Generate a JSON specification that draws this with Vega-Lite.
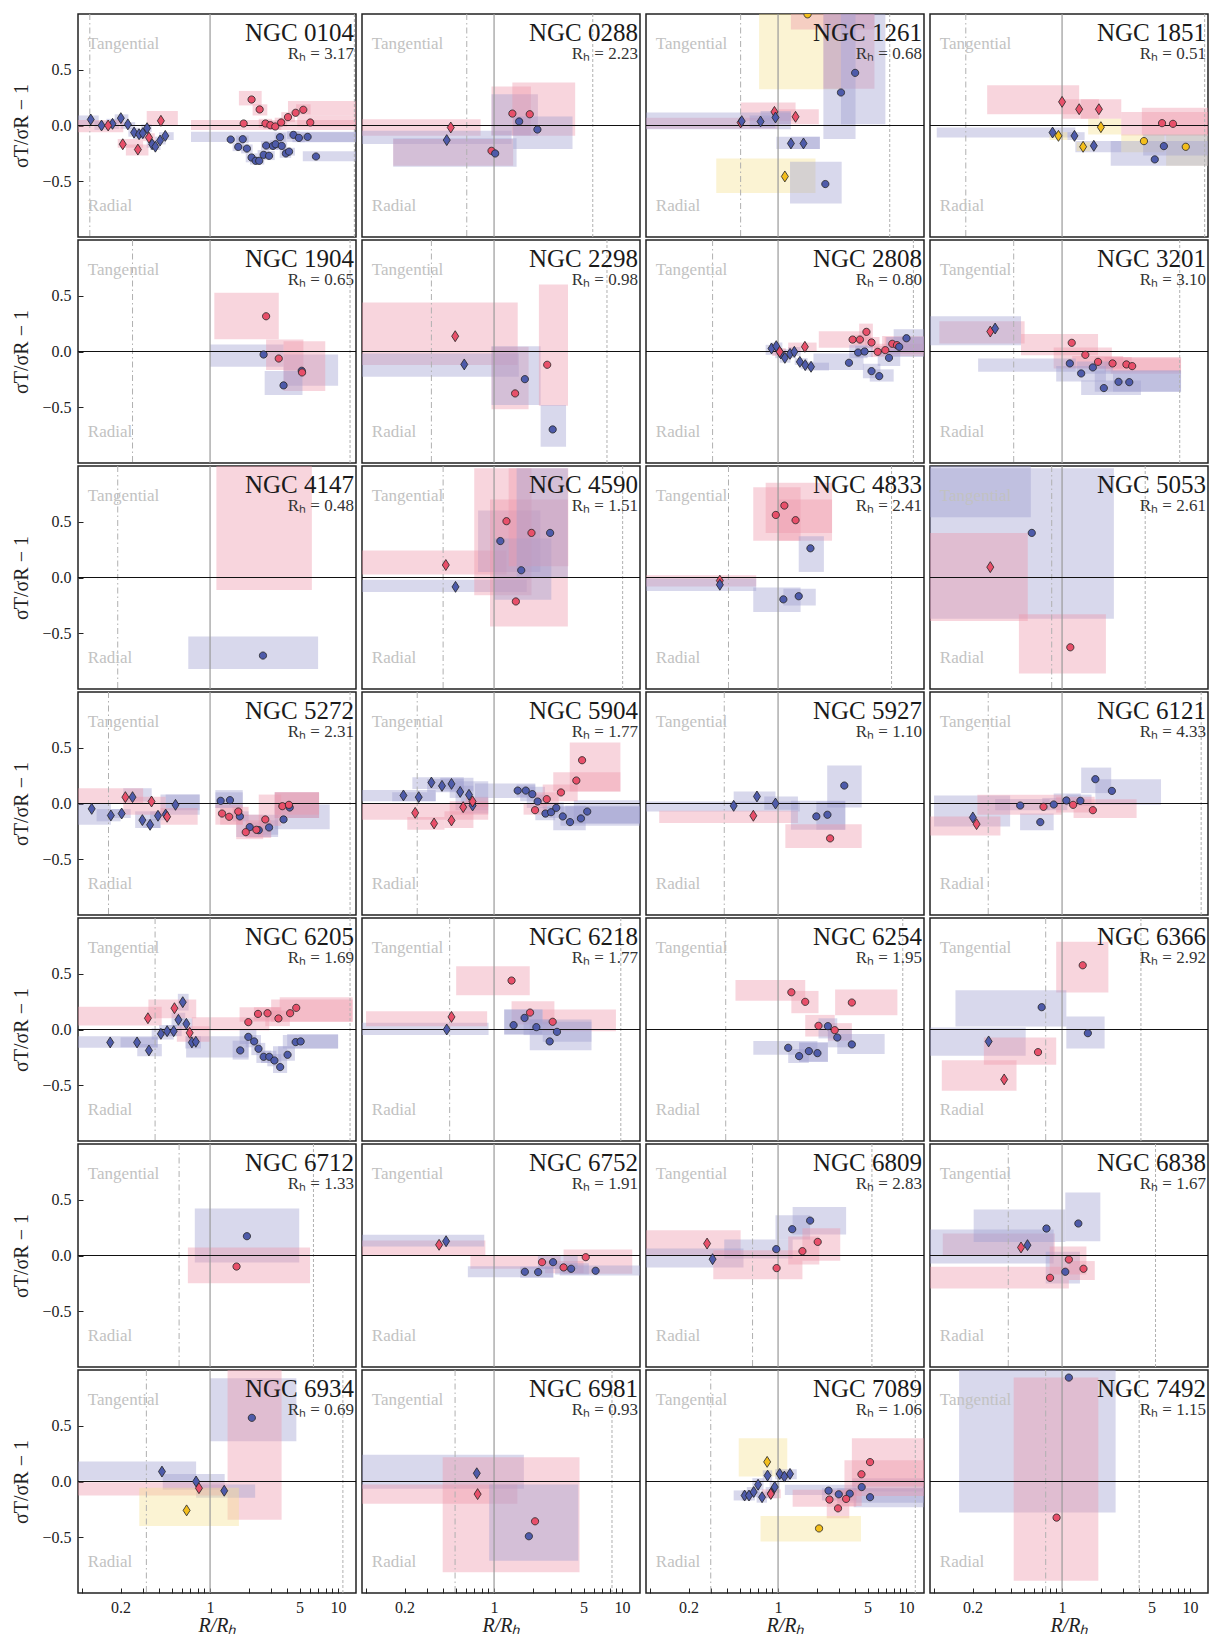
{
"$schema": "https://vega.github.io/schema/vega-lite/v6.json",
"padding": {"left": 11, "top": 12, "right": 2, "bottom": 0},
"bounds": "flush",
"data": {"values": [
{"g":"NGC 0104","rh":"3.17","dd":0.115,"dt":13.4},
{"g":"NGC 0288","rh":"2.23","dd":0.612,"dt":5.9},
{"g":"NGC 1261","rh":"0.68","dd":0.51,"dt":7.45},
{"g":"NGC 1851","rh":"0.51","dd":0.177,"dt":13.0},
{"g":"NGC 1904","rh":"0.65","dd":0.248,"dt":12.4},
{"g":"NGC 2298","rh":"0.98","dd":0.324,"dt":7.62},
{"g":"NGC 2808","rh":"0.80","dd":0.308,"dt":11.4},
{"g":"NGC 3201","rh":"3.10","dd":0.419,"dt":8.3},
{"g":"NGC 4147","rh":"0.48","dd":0.19},
{"g":"NGC 4590","rh":"1.51","dd":0.40,"dt":10.1},
{"g":"NGC 4833","rh":"2.41","dd":0.41,"dt":7.7},
{"g":"NGC 5053","rh":"2.61","dd":0.83,"dt":4.46},
{"g":"NGC 5272","rh":"2.31","dd":0.161,"dt":12.4},
{"g":"NGC 5904","rh":"1.77","dd":0.251},
{"g":"NGC 5927","rh":"1.10","dd":0.38},
{"g":"NGC 6121","rh":"4.33","dd":0.265,"dt":12.2},
{"g":"NGC 6205","rh":"1.69","dd":0.372,"dt":12.4},
{"g":"NGC 6218","rh":"1.77","dd":0.45,"dt":9.77},
{"g":"NGC 6254","rh":"1.95","dd":0.39,"dt":9.42},
{"g":"NGC 6366","rh":"2.92","dd":0.745,"dt":4.13},
{"g":"NGC 6712","rh":"1.33","dd":0.573,"dt":6.42},
{"g":"NGC 6752","rh":"1.91"},
{"g":"NGC 6809","rh":"2.83","dd":0.632,"dt":5.41},
{"g":"NGC 6838","rh":"1.67","dd":0.38,"dt":5.37},
{"g":"NGC 6934","rh":"0.69","dd":0.318,"dt":10.9},
{"g":"NGC 6981","rh":"0.93","dd":0.496,"dt":8.34},
{"g":"NGC 7089","rh":"1.06","dd":0.298,"dt":11.8},
{"g":"NGC 7492","rh":"1.15","dd":0.745,"dt":4.0},

{"g":"NGC 0104","c":"b","s":"d","x":0.117,"y":0.054,"x0":0.093,"x1":0.135,"y0":0.0,"y1":0.09},
{"g":"NGC 0104","c":"b","s":"d","x":0.142,"y":0.0,"x0":0.125,"x1":0.16,"y0":-0.04,"y1":0.04},
{"g":"NGC 0104","c":"b","s":"d","x":0.173,"y":0.015,"x0":0.155,"x1":0.195,"y0":-0.03,"y1":0.06},
{"g":"NGC 0104","c":"b","s":"d","x":0.201,"y":0.066,"x0":0.18,"x1":0.23,"y0":0.02,"y1":0.1},
{"g":"NGC 0104","c":"b","s":"d","x":0.228,"y":0.01,"x0":0.2,"x1":0.26,"y0":-0.03,"y1":0.03},
{"g":"NGC 0104","c":"b","s":"d","x":0.255,"y":-0.063,"x0":0.23,"x1":0.28,"y0":-0.1,"y1":-0.02},
{"g":"NGC 0104","c":"b","s":"d","x":0.279,"y":-0.078,"x0":0.25,"x1":0.31,"y0":-0.12,"y1":-0.04},
{"g":"NGC 0104","c":"b","s":"d","x":0.298,"y":-0.069,"x0":0.27,"x1":0.33,"y0":-0.11,"y1":-0.03},
{"g":"NGC 0104","c":"b","s":"d","x":0.322,"y":-0.024,"x0":0.29,"x1":0.35,"y0":-0.06,"y1":0.01},
{"g":"NGC 0104","c":"b","s":"d","x":0.353,"y":-0.168,"x0":0.32,"x1":0.39,"y0":-0.2,"y1":-0.13},
{"g":"NGC 0104","c":"b","s":"d","x":0.374,"y":-0.19,"x0":0.34,"x1":0.41,"y0":-0.22,"y1":-0.15},
{"g":"NGC 0104","c":"b","s":"d","x":0.407,"y":-0.135,"x0":0.37,"x1":0.45,"y0":-0.17,"y1":-0.1},
{"g":"NGC 0104","c":"b","s":"d","x":0.447,"y":-0.093,"x0":0.4,"x1":0.52,"y0":-0.13,"y1":-0.06},
{"g":"NGC 0104","c":"r","s":"d","x":0.16,"y":0.0,"x0":0.093,"x1":0.21,"y0":-0.06,"y1":0.05},
{"g":"NGC 0104","c":"r","s":"d","x":0.208,"y":-0.168,"x0":0.19,"x1":0.3,"y0":-0.2,"y1":-0.12},
{"g":"NGC 0104","c":"r","s":"d","x":0.273,"y":-0.216,"x0":0.22,"x1":0.33,"y0":-0.27,"y1":-0.17},
{"g":"NGC 0104","c":"r","s":"d","x":0.333,"y":-0.108,"x0":0.3,"x1":0.37,"y0":-0.14,"y1":-0.07},
{"g":"NGC 0104","c":"r","s":"d","x":0.413,"y":0.042,"x0":0.32,"x1":0.56,"y0":0.0,"y1":0.13},
{"g":"NGC 0104","c":"r","s":"c","x":1.83,"y":0.018,"x0":0.71,"x1":13.8,"y0":-0.04,"y1":0.05},
{"g":"NGC 0104","c":"r","s":"c","x":2.11,"y":0.233,"x0":1.68,"x1":2.53,"y0":0.18,"y1":0.31},
{"g":"NGC 0104","c":"r","s":"c","x":2.44,"y":0.144,"x0":2.15,"x1":2.8,"y0":0.09,"y1":0.19},
{"g":"NGC 0104","c":"r","s":"c","x":2.71,"y":0.018,"x0":2.4,"x1":3.05,"y0":-0.02,"y1":0.06},
{"g":"NGC 0104","c":"r","s":"c","x":2.96,"y":0.003,"x0":2.6,"x1":3.3,"y0":-0.03,"y1":0.04},
{"g":"NGC 0104","c":"r","s":"c","x":3.23,"y":-0.009,"x0":2.9,"x1":3.6,"y0":-0.04,"y1":0.03},
{"g":"NGC 0104","c":"r","s":"c","x":3.59,"y":0.027,"x0":3.2,"x1":4.0,"y0":-0.01,"y1":0.07},
{"g":"NGC 0104","c":"r","s":"c","x":4.06,"y":0.075,"x0":3.6,"x1":4.6,"y0":0.03,"y1":0.12},
{"g":"NGC 0104","c":"r","s":"c","x":4.66,"y":0.114,"x0":4.06,"x1":13.8,"y0":0.09,"y1":0.22},
{"g":"NGC 0104","c":"r","s":"c","x":5.35,"y":0.141,"x0":4.7,"x1":6.1,"y0":0.1,"y1":0.19},
{"g":"NGC 0104","c":"r","s":"c","x":6.06,"y":0.027,"x0":4.8,"x1":13.8,"y0":-0.01,"y1":0.09},
{"g":"NGC 0104","c":"b","s":"c","x":1.45,"y":-0.126,"x0":0.71,"x1":13.8,"y0":-0.147,"y1":-0.057},
{"g":"NGC 0104","c":"b","s":"c","x":1.66,"y":-0.192,"x0":1.5,"x1":1.85,"y0":-0.23,"y1":-0.15},
{"g":"NGC 0104","c":"b","s":"c","x":1.80,"y":-0.123,"x0":1.6,"x1":2.0,"y0":-0.16,"y1":-0.09},
{"g":"NGC 0104","c":"b","s":"c","x":1.94,"y":-0.207,"x0":1.75,"x1":2.15,"y0":-0.25,"y1":-0.17},
{"g":"NGC 0104","c":"b","s":"c","x":2.11,"y":-0.287,"x0":1.9,"x1":2.35,"y0":-0.33,"y1":-0.25},
{"g":"NGC 0104","c":"b","s":"c","x":2.27,"y":-0.317,"x0":2.05,"x1":2.5,"y0":-0.35,"y1":-0.28},
{"g":"NGC 0104","c":"b","s":"c","x":2.42,"y":-0.317,"x0":2.2,"x1":2.65,"y0":-0.35,"y1":-0.28},
{"g":"NGC 0104","c":"b","s":"c","x":2.62,"y":-0.263,"x0":2.35,"x1":2.9,"y0":-0.3,"y1":-0.22},
{"g":"NGC 0104","c":"b","s":"c","x":2.74,"y":-0.18,"x0":2.5,"x1":3.0,"y0":-0.22,"y1":-0.14},
{"g":"NGC 0104","c":"b","s":"c","x":2.89,"y":-0.272,"x0":2.6,"x1":3.2,"y0":-0.31,"y1":-0.23},
{"g":"NGC 0104","c":"b","s":"c","x":3.10,"y":-0.183,"x0":2.8,"x1":3.4,"y0":-0.22,"y1":-0.15},
{"g":"NGC 0104","c":"b","s":"c","x":3.25,"y":-0.168,"x0":2.95,"x1":3.6,"y0":-0.21,"y1":-0.13},
{"g":"NGC 0104","c":"b","s":"c","x":3.52,"y":-0.105,"x0":3.2,"x1":3.9,"y0":-0.15,"y1":-0.07},
{"g":"NGC 0104","c":"b","s":"c","x":3.63,"y":-0.183,"x0":3.3,"x1":4.0,"y0":-0.22,"y1":-0.15},
{"g":"NGC 0104","c":"b","s":"c","x":3.91,"y":-0.251,"x0":3.5,"x1":4.3,"y0":-0.29,"y1":-0.21},
{"g":"NGC 0104","c":"b","s":"c","x":4.14,"y":-0.234,"x0":3.7,"x1":4.6,"y0":-0.27,"y1":-0.2},
{"g":"NGC 0104","c":"b","s":"c","x":4.48,"y":-0.084,"x0":4.0,"x1":5.0,"y0":-0.12,"y1":-0.05},
{"g":"NGC 0104","c":"b","s":"c","x":4.94,"y":-0.111,"x0":4.4,"x1":5.5,"y0":-0.15,"y1":-0.08},
{"g":"NGC 0104","c":"b","s":"c","x":5.78,"y":-0.102,"x0":5.0,"x1":13.8,"y0":-0.15,"y1":-0.06},
{"g":"NGC 0104","c":"b","s":"c","x":6.72,"y":-0.278,"x0":5.3,"x1":13.8,"y0":-0.32,"y1":-0.23},

{"g":"NGC 0288","c":"r","s":"d","x":0.459,"y":-0.018,"x0":0.093,"x1":0.785,"y0":-0.093,"y1":0.057},
{"g":"NGC 0288","c":"b","s":"d","x":0.427,"y":-0.131,"x0":0.093,"x1":1.37,"y0":-0.167,"y1":-0.048},
{"g":"NGC 0288","c":"r","s":"c","x":0.955,"y":-0.227,"x0":0.163,"x1":1.41,"y0":-0.361,"y1":-0.122},
{"g":"NGC 0288","c":"b","s":"c","x":1.02,"y":-0.251,"x0":0.163,"x1":1.5,"y0":-0.37,"y1":-0.115},
{"g":"NGC 0288","c":"r","s":"c","x":1.39,"y":0.107,"x0":0.955,"x1":1.94,"y0":-0.087,"y1":0.349},
{"g":"NGC 0288","c":"b","s":"c","x":1.57,"y":0.036,"x0":0.955,"x1":2.2,"y0":-0.093,"y1":0.28},
{"g":"NGC 0288","c":"r","s":"c","x":1.90,"y":0.101,"x0":1.39,"x1":4.3,"y0":-0.093,"y1":0.385},
{"g":"NGC 0288","c":"b","s":"c","x":2.18,"y":-0.036,"x0":1.41,"x1":4.1,"y0":-0.21,"y1":0.08},

{"g":"NGC 1261","c":"y","s":"c","x":1.70,"y":0.997,"x0":0.711,"x1":3.1,"y0":0.325,"y1":1.6},
{"g":"NGC 1261","c":"r","s":"c","x":3.0,"y":1.15,"x0":1.26,"x1":5.66,"y0":0.86,"y1":1.5},
{"g":"NGC 1261","c":"r","s":"c","x":3.5,"y":1.2,"x0":2.26,"x1":5.66,"y0":0.33,"y1":2.0},
{"g":"NGC 1261","c":"b","s":"c","x":3.10,"y":0.296,"x0":2.26,"x1":4.03,"y0":-0.122,"y1":1.5},
{"g":"NGC 1261","c":"b","s":"c","x":4.0,"y":0.472,"x0":3.1,"x1":6.89,"y0":0.012,"y1":1.5},
{"g":"NGC 1261","c":"r","s":"d","x":0.51,"y":0.027,"x0":0.093,"x1":1.0,"y0":-0.03,"y1":0.07},
{"g":"NGC 1261","c":"r","s":"d","x":0.937,"y":0.122,"x0":0.51,"x1":1.37,"y0":0.042,"y1":0.206},
{"g":"NGC 1261","c":"r","s":"d","x":1.37,"y":0.078,"x0":1.0,"x1":2.08,"y0":0.012,"y1":0.146},
{"g":"NGC 1261","c":"b","s":"d","x":0.52,"y":0.039,"x0":0.093,"x1":1.26,"y0":-0.033,"y1":0.116},
{"g":"NGC 1261","c":"b","s":"d","x":0.73,"y":0.036,"x0":0.6,"x1":0.95,"y0":-0.02,"y1":0.09},
{"g":"NGC 1261","c":"b","s":"d","x":0.955,"y":0.072,"x0":0.73,"x1":1.26,"y0":0.012,"y1":0.13},
{"g":"NGC 1261","c":"b","s":"d","x":1.26,"y":-0.161,"x0":0.97,"x1":2.12,"y0":-0.21,"y1":-0.1},
{"g":"NGC 1261","c":"b","s":"d","x":1.58,"y":-0.161,"x0":1.26,"x1":2.12,"y0":-0.21,"y1":-0.1},
{"g":"NGC 1261","c":"y","s":"d","x":1.13,"y":-0.457,"x0":0.329,"x1":1.96,"y0":-0.606,"y1":-0.296},
{"g":"NGC 1261","c":"b","s":"c","x":2.34,"y":-0.525,"x0":1.24,"x1":3.14,"y0":-0.7,"y1":-0.325},

{"g":"NGC 1851","c":"r","s":"d","x":1.0,"y":0.212,"x0":0.26,"x1":1.36,"y0":0.10,"y1":0.36},
{"g":"NGC 1851","c":"r","s":"d","x":1.36,"y":0.146,"x0":1.0,"x1":1.94,"y0":0.06,"y1":0.236},
{"g":"NGC 1851","c":"r","s":"d","x":1.94,"y":0.146,"x0":1.4,"x1":2.9,"y0":0.06,"y1":0.236},
{"g":"NGC 1851","c":"b","s":"d","x":0.843,"y":-0.063,"x0":0.105,"x1":1.27,"y0":-0.107,"y1":-0.018},
{"g":"NGC 1851","c":"b","s":"d","x":1.25,"y":-0.093,"x0":1.1,"x1":1.5,"y0":-0.13,"y1":-0.06},
{"g":"NGC 1851","c":"b","s":"d","x":1.77,"y":-0.182,"x0":1.27,"x1":2.9,"y0":-0.24,"y1":-0.14},
{"g":"NGC 1851","c":"y","s":"d","x":0.937,"y":-0.093,"x0":0.8,"x1":1.1,"y0":-0.13,"y1":-0.06},
{"g":"NGC 1851","c":"y","s":"d","x":1.46,"y":-0.191,"x0":1.3,"x1":1.65,"y0":-0.23,"y1":-0.15},
{"g":"NGC 1851","c":"y","s":"d","x":2.01,"y":-0.015,"x0":1.6,"x1":2.9,"y0":-0.08,"y1":0.06},
{"g":"NGC 1851","c":"r","s":"c","x":6.04,"y":0.021,"x0":4.2,"x1":13.8,"y0":-0.09,"y1":0.16},
{"g":"NGC 1851","c":"r","s":"c","x":7.35,"y":0.015,"x0":2.9,"x1":13.8,"y0":-0.09,"y1":0.12},
{"g":"NGC 1851","c":"y","s":"c","x":4.36,"y":-0.14,"x0":2.9,"x1":6.3,"y0":-0.24,"y1":-0.08},
{"g":"NGC 1851","c":"y","s":"c","x":9.25,"y":-0.191,"x0":6.5,"x1":13.8,"y0":-0.36,"y1":-0.08},
{"g":"NGC 1851","c":"b","s":"c","x":5.3,"y":-0.304,"x0":2.4,"x1":13.8,"y0":-0.36,"y1":-0.14},
{"g":"NGC 1851","c":"b","s":"c","x":6.24,"y":-0.185,"x0":4.3,"x1":13.8,"y0":-0.27,"y1":-0.08},

{"g":"NGC 1904","c":"r","s":"c","x":2.74,"y":0.316,"x0":1.08,"x1":3.44,"y0":0.11,"y1":0.528},
{"g":"NGC 1904","c":"b","s":"c","x":2.62,"y":-0.027,"x0":1.0,"x1":3.75,"y0":-0.137,"y1":0.063},
{"g":"NGC 1904","c":"r","s":"c","x":3.44,"y":-0.063,"x0":2.74,"x1":5.36,"y0":-0.167,"y1":0.107},
{"g":"NGC 1904","c":"b","s":"c","x":5.2,"y":-0.173,"x0":3.75,"x1":10.0,"y0":-0.307,"y1":-0.027},
{"g":"NGC 1904","c":"r","s":"c","x":5.23,"y":-0.188,"x0":3.75,"x1":7.94,"y0":-0.355,"y1":0.093},
{"g":"NGC 1904","c":"b","s":"c","x":3.75,"y":-0.304,"x0":2.67,"x1":5.27,"y0":-0.391,"y1":-0.176},

{"g":"NGC 2298","c":"r","s":"d","x":0.497,"y":0.137,"x0":0.093,"x1":1.53,"y0":-0.122,"y1":0.439},
{"g":"NGC 2298","c":"b","s":"d","x":0.585,"y":-0.116,"x0":0.093,"x1":1.56,"y0":-0.227,"y1":-0.018},
{"g":"NGC 2298","c":"r","s":"c","x":1.46,"y":-0.376,"x0":0.955,"x1":1.86,"y0":-0.519,"y1":0.042},
{"g":"NGC 2298","c":"b","s":"c","x":1.74,"y":-0.248,"x0":0.955,"x1":2.31,"y0":-0.48,"y1":0.048},
{"g":"NGC 2298","c":"r","s":"c","x":2.6,"y":-0.119,"x0":2.24,"x1":3.78,"y0":-0.487,"y1":0.6},
{"g":"NGC 2298","c":"b","s":"c","x":2.87,"y":-0.699,"x0":2.31,"x1":3.65,"y0":-0.854,"y1":-0.48},

{"g":"NGC 2808","c":"b","s":"d","x":0.889,"y":0.027,"x0":0.8,"x1":0.98,"y0":-0.03,"y1":0.06},
{"g":"NGC 2808","c":"b","s":"d","x":0.968,"y":0.048,"x0":0.87,"x1":1.08,"y0":0.0,"y1":0.08},
{"g":"NGC 2808","c":"b","s":"d","x":1.05,"y":-0.018,"x0":0.95,"x1":1.15,"y0":-0.06,"y1":0.02},
{"g":"NGC 2808","c":"b","s":"d","x":1.13,"y":-0.057,"x0":1.03,"x1":1.25,"y0":-0.1,"y1":-0.02},
{"g":"NGC 2808","c":"b","s":"d","x":1.24,"y":-0.021,"x0":1.12,"x1":1.38,"y0":-0.06,"y1":0.02},
{"g":"NGC 2808","c":"b","s":"d","x":1.34,"y":-0.003,"x0":1.2,"x1":1.5,"y0":-0.04,"y1":0.04},
{"g":"NGC 2808","c":"b","s":"d","x":1.48,"y":-0.093,"x0":1.35,"x1":1.7,"y0":-0.12,"y1":-0.06},
{"g":"NGC 2808","c":"b","s":"d","x":1.63,"y":-0.122,"x0":1.5,"x1":1.9,"y0":-0.16,"y1":-0.09},
{"g":"NGC 2808","c":"b","s":"d","x":1.81,"y":-0.137,"x0":1.6,"x1":2.5,"y0":-0.17,"y1":-0.1},
{"g":"NGC 2808","c":"r","s":"d","x":1.03,"y":-0.003,"x0":0.9,"x1":1.15,"y0":-0.04,"y1":0.03},
{"g":"NGC 2808","c":"r","s":"d","x":1.62,"y":0.042,"x0":1.2,"x1":2.0,"y0":0.0,"y1":0.08},
{"g":"NGC 2808","c":"r","s":"c","x":3.82,"y":0.107,"x0":2.08,"x1":5.3,"y0":0.033,"y1":0.182},
{"g":"NGC 2808","c":"r","s":"c","x":4.36,"y":0.107,"x0":3.9,"x1":4.9,"y0":0.06,"y1":0.15},
{"g":"NGC 2808","c":"r","s":"c","x":4.9,"y":0.176,"x0":4.3,"x1":5.5,"y0":0.1,"y1":0.25},
{"g":"NGC 2808","c":"r","s":"c","x":5.37,"y":0.081,"x0":4.8,"x1":6.2,"y0":0.03,"y1":0.13},
{"g":"NGC 2808","c":"r","s":"c","x":6.0,"y":-0.003,"x0":5.3,"x1":6.8,"y0":-0.05,"y1":0.05},
{"g":"NGC 2808","c":"r","s":"c","x":6.88,"y":0.012,"x0":5.6,"x1":13.8,"y0":-0.04,"y1":0.07},
{"g":"NGC 2808","c":"r","s":"c","x":7.8,"y":0.069,"x0":6.5,"x1":13.8,"y0":0.0,"y1":0.14},
{"g":"NGC 2808","c":"r","s":"c","x":8.49,"y":0.057,"x0":6.8,"x1":13.8,"y0":-0.02,"y1":0.13},
{"g":"NGC 2808","c":"b","s":"c","x":3.58,"y":-0.101,"x0":1.89,"x1":4.65,"y0":-0.167,"y1":-0.018},
{"g":"NGC 2808","c":"b","s":"c","x":4.22,"y":-0.009,"x0":3.6,"x1":5.0,"y0":-0.06,"y1":0.06},
{"g":"NGC 2808","c":"b","s":"c","x":4.74,"y":0.0,"x0":4.0,"x1":5.5,"y0":-0.05,"y1":0.05},
{"g":"NGC 2808","c":"b","s":"c","x":5.37,"y":-0.176,"x0":4.6,"x1":6.3,"y0":-0.24,"y1":-0.11},
{"g":"NGC 2808","c":"b","s":"c","x":6.17,"y":-0.221,"x0":5.2,"x1":8.0,"y0":-0.27,"y1":-0.16},
{"g":"NGC 2808","c":"b","s":"c","x":7.35,"y":-0.057,"x0":6.0,"x1":9.0,"y0":-0.13,"y1":0.02},
{"g":"NGC 2808","c":"b","s":"c","x":8.83,"y":0.042,"x0":7.0,"x1":13.8,"y0":-0.05,"y1":0.13},
{"g":"NGC 2808","c":"b","s":"c","x":10.07,"y":0.119,"x0":8.0,"x1":13.8,"y0":0.0,"y1":0.2},

{"g":"NGC 3201","c":"r","s":"d","x":0.275,"y":0.179,"x0":0.11,"x1":0.51,"y0":0.072,"y1":0.272},
{"g":"NGC 3201","c":"b","s":"d","x":0.3,"y":0.206,"x0":0.093,"x1":0.478,"y0":0.057,"y1":0.316},
{"g":"NGC 3201","c":"r","s":"c","x":1.19,"y":0.078,"x0":0.478,"x1":1.91,"y0":-0.033,"y1":0.158},
{"g":"NGC 3201","c":"r","s":"c","x":1.52,"y":-0.03,"x0":0.86,"x1":2.45,"y0":-0.152,"y1":0.036},
{"g":"NGC 3201","c":"r","s":"c","x":1.91,"y":-0.093,"x0":1.2,"x1":3.0,"y0":-0.15,"y1":-0.04},
{"g":"NGC 3201","c":"r","s":"c","x":2.48,"y":-0.107,"x0":1.8,"x1":3.5,"y0":-0.16,"y1":-0.05},
{"g":"NGC 3201","c":"r","s":"c","x":3.18,"y":-0.116,"x0":2.15,"x1":8.5,"y0":-0.18,"y1":-0.05},
{"g":"NGC 3201","c":"r","s":"c","x":3.53,"y":-0.131,"x0":2.4,"x1":8.5,"y0":-0.2,"y1":-0.06},
{"g":"NGC 3201","c":"b","s":"c","x":1.15,"y":-0.107,"x0":0.221,"x1":1.28,"y0":-0.182,"y1":-0.063},
{"g":"NGC 3201","c":"b","s":"c","x":1.41,"y":-0.197,"x0":0.9,"x1":2.2,"y0":-0.27,"y1":-0.13},
{"g":"NGC 3201","c":"b","s":"c","x":1.74,"y":-0.143,"x0":1.3,"x1":2.5,"y0":-0.2,"y1":-0.09},
{"g":"NGC 3201","c":"b","s":"c","x":2.12,"y":-0.328,"x0":1.41,"x1":4.13,"y0":-0.39,"y1":-0.26},
{"g":"NGC 3201","c":"b","s":"c","x":2.76,"y":-0.272,"x0":1.8,"x1":8.5,"y0":-0.36,"y1":-0.17},
{"g":"NGC 3201","c":"b","s":"c","x":3.35,"y":-0.275,"x0":2.5,"x1":8.5,"y0":-0.36,"y1":-0.17},

{"g":"NGC 4147","c":"r","s":"c","x":2.6,"y":1.3,"x0":1.12,"x1":6.24,"y0":-0.112,"y1":1.5},
{"g":"NGC 4147","c":"b","s":"c","x":2.59,"y":-0.70,"x0":0.676,"x1":6.98,"y0":-0.82,"y1":-0.53},

{"g":"NGC 4590","c":"b","s":"d","x":0.50,"y":-0.084,"x0":0.093,"x1":1.8,"y0":-0.13,"y1":-0.02},
{"g":"NGC 4590","c":"r","s":"d","x":0.42,"y":0.112,"x0":0.093,"x1":1.25,"y0":0.028,"y1":0.243},
{"g":"NGC 4590","c":"b","s":"c","x":1.12,"y":0.327,"x0":0.75,"x1":2.3,"y0":0.05,"y1":0.6},
{"g":"NGC 4590","c":"r","s":"c","x":1.25,"y":0.505,"x0":0.7,"x1":1.96,"y0":-0.16,"y1":0.98},
{"g":"NGC 4590","c":"r","s":"c","x":1.48,"y":-0.215,"x0":0.93,"x1":3.77,"y0":-0.44,"y1":0.7},
{"g":"NGC 4590","c":"b","s":"c","x":1.63,"y":0.065,"x0":1.0,"x1":2.8,"y0":-0.2,"y1":0.35},
{"g":"NGC 4590","c":"r","s":"c","x":1.96,"y":0.40,"x0":1.3,"x1":3.8,"y0":0.1,"y1":0.98},
{"g":"NGC 4590","c":"b","s":"c","x":2.74,"y":0.40,"x0":1.5,"x1":3.77,"y0":0.0,"y1":0.98},

{"g":"NGC 4833","c":"r","s":"d","x":0.351,"y":-0.028,"x0":0.093,"x1":0.675,"y0":-0.08,"y1":0.02},
{"g":"NGC 4833","c":"b","s":"d","x":0.351,"y":-0.065,"x0":0.093,"x1":0.675,"y0":-0.12,"y1":-0.01},
{"g":"NGC 4833","c":"r","s":"c","x":0.96,"y":0.561,"x0":0.64,"x1":1.5,"y0":0.33,"y1":0.81},
{"g":"NGC 4833","c":"r","s":"c","x":1.12,"y":0.645,"x0":0.8,"x1":2.64,"y0":0.4,"y1":0.85},
{"g":"NGC 4833","c":"r","s":"c","x":1.37,"y":0.514,"x0":1.0,"x1":2.64,"y0":0.33,"y1":0.7},
{"g":"NGC 4833","c":"b","s":"c","x":1.79,"y":0.262,"x0":1.45,"x1":2.28,"y0":0.05,"y1":0.37},
{"g":"NGC 4833","c":"b","s":"c","x":1.10,"y":-0.196,"x0":0.64,"x1":1.5,"y0":-0.31,"y1":-0.09},
{"g":"NGC 4833","c":"b","s":"c","x":1.45,"y":-0.168,"x0":1.1,"x1":1.97,"y0":-0.25,"y1":-0.1},

{"g":"NGC 5053","c":"b","s":"c","x":0.58,"y":0.40,"x0":0.093,"x1":2.54,"y0":-0.37,"y1":0.98},
{"g":"NGC 5053","c":"b","s":"d","x":0.3,"y":1.2,"x0":0.093,"x1":0.57,"y0":0.54,"y1":1.6},
{"g":"NGC 5053","c":"r","s":"d","x":0.275,"y":0.093,"x0":0.093,"x1":0.54,"y0":-0.39,"y1":0.4},
{"g":"NGC 5053","c":"r","s":"c","x":1.16,"y":-0.626,"x0":0.46,"x1":2.2,"y0":-0.86,"y1":-0.33},

{"g":"NGC 5272","c":"b","s":"d","x":0.119,"y":-0.048,"x0":0.093,"x1":0.168,"y0":-0.19,"y1":0.0},
{"g":"NGC 5272","c":"b","s":"d","x":0.168,"y":-0.107,"x0":0.13,"x1":0.2,"y0":-0.16,"y1":-0.05},
{"g":"NGC 5272","c":"b","s":"d","x":0.204,"y":-0.09,"x0":0.17,"x1":0.24,"y0":-0.13,"y1":-0.05},
{"g":"NGC 5272","c":"b","s":"d","x":0.248,"y":0.057,"x0":0.21,"x1":0.35,"y0":0.018,"y1":0.137},
{"g":"NGC 5272","c":"b","s":"d","x":0.296,"y":-0.149,"x0":0.26,"x1":0.41,"y0":-0.22,"y1":-0.07},
{"g":"NGC 5272","c":"b","s":"d","x":0.34,"y":-0.191,"x0":0.3,"x1":0.41,"y0":-0.22,"y1":-0.14},
{"g":"NGC 5272","c":"b","s":"d","x":0.392,"y":-0.11,"x0":0.34,"x1":0.45,"y0":-0.15,"y1":-0.07},
{"g":"NGC 5272","c":"b","s":"d","x":0.45,"y":-0.099,"x0":0.41,"x1":0.83,"y0":-0.1,"y1":0.08},
{"g":"NGC 5272","c":"b","s":"d","x":0.537,"y":-0.012,"x0":0.45,"x1":0.83,"y0":-0.06,"y1":0.08},
{"g":"NGC 5272","c":"r","s":"d","x":0.218,"y":0.057,"x0":0.093,"x1":0.3,"y0":0.0,"y1":0.137},
{"g":"NGC 5272","c":"r","s":"d","x":0.349,"y":0.018,"x0":0.21,"x1":0.45,"y0":-0.1,"y1":0.06},
{"g":"NGC 5272","c":"r","s":"d","x":0.462,"y":-0.119,"x0":0.41,"x1":0.8,"y0":-0.19,"y1":-0.04},
{"g":"NGC 5272","c":"b","s":"c","x":1.21,"y":0.024,"x0":1.1,"x1":1.8,"y0":-0.04,"y1":0.12},
{"g":"NGC 5272","c":"b","s":"c","x":1.43,"y":0.03,"x0":1.1,"x1":1.8,"y0":-0.04,"y1":0.1},
{"g":"NGC 5272","c":"b","s":"c","x":1.71,"y":-0.116,"x0":1.5,"x1":2.0,"y0":-0.16,"y1":-0.07},
{"g":"NGC 5272","c":"b","s":"c","x":2.04,"y":-0.212,"x0":1.6,"x1":3.4,"y0":-0.3,"y1":-0.1},
{"g":"NGC 5272","c":"b","s":"c","x":2.4,"y":-0.239,"x0":2.0,"x1":3.0,"y0":-0.3,"y1":-0.17},
{"g":"NGC 5272","c":"b","s":"c","x":2.89,"y":-0.215,"x0":2.4,"x1":3.4,"y0":-0.28,"y1":-0.15},
{"g":"NGC 5272","c":"b","s":"c","x":3.75,"y":-0.143,"x0":3.2,"x1":8.6,"y0":-0.23,"y1":-0.01},
{"g":"NGC 5272","c":"b","s":"c","x":4.19,"y":-0.036,"x0":3.2,"x1":7.1,"y0":-0.13,"y1":0.1},
{"g":"NGC 5272","c":"r","s":"c","x":1.24,"y":-0.09,"x0":1.1,"x1":1.8,"y0":-0.19,"y1":-0.01},
{"g":"NGC 5272","c":"r","s":"c","x":1.41,"y":-0.119,"x0":1.2,"x1":1.8,"y0":-0.19,"y1":-0.04},
{"g":"NGC 5272","c":"r","s":"c","x":1.66,"y":-0.072,"x0":1.5,"x1":2.0,"y0":-0.11,"y1":-0.03},
{"g":"NGC 5272","c":"r","s":"c","x":1.9,"y":-0.257,"x0":1.6,"x1":2.6,"y0":-0.32,"y1":-0.1},
{"g":"NGC 5272","c":"r","s":"c","x":2.3,"y":-0.236,"x0":1.9,"x1":3.0,"y0":-0.31,"y1":-0.15},
{"g":"NGC 5272","c":"r","s":"c","x":2.7,"y":-0.143,"x0":2.4,"x1":3.6,"y0":-0.2,"y1":0.08},
{"g":"NGC 5272","c":"r","s":"c","x":3.67,"y":-0.024,"x0":3.2,"x1":7.1,"y0":-0.13,"y1":0.1},
{"g":"NGC 5272","c":"r","s":"c","x":4.13,"y":-0.012,"x0":3.2,"x1":7.1,"y0":-0.1,"y1":0.1},

{"g":"NGC 5904","c":"b","s":"d","x":0.196,"y":0.072,"x0":0.093,"x1":0.35,"y0":0.02,"y1":0.12},
{"g":"NGC 5904","c":"b","s":"d","x":0.258,"y":0.057,"x0":0.16,"x1":0.35,"y0":0.02,"y1":0.1},
{"g":"NGC 5904","c":"b","s":"d","x":0.324,"y":0.188,"x0":0.23,"x1":0.58,"y0":0.13,"y1":0.235},
{"g":"NGC 5904","c":"b","s":"d","x":0.392,"y":0.158,"x0":0.3,"x1":0.58,"y0":0.1,"y1":0.22},
{"g":"NGC 5904","c":"b","s":"d","x":0.465,"y":0.176,"x0":0.38,"x1":0.69,"y0":0.11,"y1":0.23},
{"g":"NGC 5904","c":"b","s":"d","x":0.544,"y":0.104,"x0":0.45,"x1":0.69,"y0":0.05,"y1":0.16},
{"g":"NGC 5904","c":"b","s":"d","x":0.637,"y":0.078,"x0":0.5,"x1":0.9,"y0":-0.06,"y1":0.2},
{"g":"NGC 5904","c":"b","s":"d","x":0.68,"y":-0.018,"x0":0.55,"x1":0.9,"y0":-0.09,"y1":0.05},
{"g":"NGC 5904","c":"r","s":"d","x":0.242,"y":-0.084,"x0":0.093,"x1":0.9,"y0":-0.146,"y1":0.0},
{"g":"NGC 5904","c":"r","s":"d","x":0.34,"y":-0.179,"x0":0.21,"x1":0.41,"y0":-0.236,"y1":-0.12},
{"g":"NGC 5904","c":"r","s":"d","x":0.465,"y":-0.152,"x0":0.41,"x1":0.69,"y0":-0.22,"y1":-0.07},
{"g":"NGC 5904","c":"r","s":"d","x":0.574,"y":-0.033,"x0":0.45,"x1":0.9,"y0":-0.1,"y1":0.02},
{"g":"NGC 5904","c":"r","s":"d","x":0.68,"y":0.018,"x0":0.6,"x1":0.9,"y0":-0.03,"y1":0.06},
{"g":"NGC 5904","c":"b","s":"c","x":1.53,"y":0.116,"x0":0.71,"x1":2.1,"y0":0.05,"y1":0.18},
{"g":"NGC 5904","c":"b","s":"c","x":1.77,"y":0.116,"x0":1.5,"x1":2.1,"y0":0.06,"y1":0.17},
{"g":"NGC 5904","c":"b","s":"c","x":1.99,"y":0.084,"x0":1.6,"x1":2.5,"y0":0.02,"y1":0.15},
{"g":"NGC 5904","c":"b","s":"c","x":2.19,"y":0.018,"x0":1.8,"x1":2.6,"y0":-0.04,"y1":0.08},
{"g":"NGC 5904","c":"b","s":"c","x":2.52,"y":-0.09,"x0":2.1,"x1":3.0,"y0":-0.15,"y1":-0.03},
{"g":"NGC 5904","c":"b","s":"c","x":2.79,"y":-0.078,"x0":2.4,"x1":3.2,"y0":-0.13,"y1":-0.02},
{"g":"NGC 5904","c":"b","s":"c","x":3.06,"y":-0.039,"x0":2.6,"x1":3.5,"y0":-0.09,"y1":0.01},
{"g":"NGC 5904","c":"b","s":"c","x":3.44,"y":-0.116,"x0":2.9,"x1":5.2,"y0":-0.24,"y1":-0.02},
{"g":"NGC 5904","c":"b","s":"c","x":3.92,"y":-0.167,"x0":3.3,"x1":13.8,"y0":-0.2,"y1":-0.03},
{"g":"NGC 5904","c":"b","s":"c","x":4.77,"y":-0.134,"x0":3.6,"x1":13.8,"y0":-0.18,"y1":-0.02},
{"g":"NGC 5904","c":"b","s":"c","x":5.34,"y":-0.072,"x0":4.2,"x1":13.8,"y0":-0.18,"y1":0.03},
{"g":"NGC 5904","c":"r","s":"c","x":2.09,"y":-0.06,"x0":1.7,"x1":2.6,"y0":-0.1,"y1":0.0},
{"g":"NGC 5904","c":"r","s":"c","x":2.58,"y":0.039,"x0":2.1,"x1":3.2,"y0":-0.02,"y1":0.1},
{"g":"NGC 5904","c":"r","s":"c","x":3.33,"y":0.099,"x0":2.4,"x1":4.5,"y0":0.02,"y1":0.17},
{"g":"NGC 5904","c":"r","s":"c","x":4.39,"y":0.206,"x0":2.9,"x1":9.7,"y0":0.107,"y1":0.28},
{"g":"NGC 5904","c":"r","s":"c","x":4.87,"y":0.388,"x0":3.9,"x1":9.7,"y0":0.107,"y1":0.546},

{"g":"NGC 5927","c":"b","s":"d","x":0.45,"y":-0.021,"x0":0.093,"x1":1.48,"y0":-0.072,"y1":0.018},
{"g":"NGC 5927","c":"b","s":"d","x":0.684,"y":0.063,"x0":0.45,"x1":0.955,"y0":0.003,"y1":0.107},
{"g":"NGC 5927","c":"b","s":"d","x":0.955,"y":0.0,"x0":0.78,"x1":1.43,"y0":-0.055,"y1":0.063},
{"g":"NGC 5927","c":"r","s":"d","x":0.641,"y":-0.11,"x0":0.118,"x1":1.43,"y0":-0.176,"y1":-0.066},
{"g":"NGC 5927","c":"b","s":"c","x":1.99,"y":-0.116,"x0":1.26,"x1":3.35,"y0":-0.236,"y1":0.024},
{"g":"NGC 5927","c":"b","s":"c","x":2.43,"y":-0.101,"x0":1.99,"x1":3.35,"y0":-0.236,"y1":0.018},
{"g":"NGC 5927","c":"b","s":"c","x":3.29,"y":0.161,"x0":2.42,"x1":4.5,"y0":-0.036,"y1":0.34},
{"g":"NGC 5927","c":"r","s":"c","x":2.55,"y":-0.313,"x0":1.14,"x1":4.5,"y0":-0.4,"y1":-0.185},

{"g":"NGC 6121","c":"b","s":"d","x":0.201,"y":-0.125,"x0":0.1,"x1":0.393,"y0":-0.206,"y1":0.072},
{"g":"NGC 6121","c":"r","s":"d","x":0.215,"y":-0.185,"x0":0.093,"x1":0.33,"y0":-0.287,"y1":-0.116},
{"g":"NGC 6121","c":"b","s":"c","x":0.471,"y":-0.018,"x0":0.3,"x1":0.8,"y0":-0.06,"y1":0.04},
{"g":"NGC 6121","c":"b","s":"c","x":0.676,"y":-0.167,"x0":0.47,"x1":0.86,"y0":-0.24,"y1":-0.09},
{"g":"NGC 6121","c":"b","s":"c","x":0.861,"y":-0.009,"x0":0.7,"x1":1.1,"y0":-0.06,"y1":0.05},
{"g":"NGC 6121","c":"b","s":"c","x":1.08,"y":0.027,"x0":0.86,"x1":1.4,"y0":-0.01,"y1":0.09},
{"g":"NGC 6121","c":"b","s":"c","x":1.39,"y":0.024,"x0":1.08,"x1":1.7,"y0":-0.02,"y1":0.08},
{"g":"NGC 6121","c":"b","s":"c","x":1.82,"y":0.218,"x0":1.41,"x1":2.42,"y0":0.093,"y1":0.322},
{"g":"NGC 6121","c":"b","s":"c","x":2.45,"y":0.113,"x0":1.82,"x1":5.93,"y0":-0.012,"y1":0.218},
{"g":"NGC 6121","c":"r","s":"c","x":0.716,"y":-0.03,"x0":0.218,"x1":1.0,"y0":-0.1,"y1":0.078},
{"g":"NGC 6121","c":"r","s":"c","x":1.22,"y":-0.012,"x0":0.9,"x1":1.8,"y0":-0.08,"y1":0.06},
{"g":"NGC 6121","c":"r","s":"c","x":1.74,"y":-0.06,"x0":1.23,"x1":3.82,"y0":-0.131,"y1":0.039},

{"g":"NGC 6205","c":"b","s":"d","x":0.166,"y":-0.116,"x0":0.093,"x1":0.39,"y0":-0.164,"y1":-0.06},
{"g":"NGC 6205","c":"b","s":"d","x":0.269,"y":-0.116,"x0":0.2,"x1":0.39,"y0":-0.16,"y1":-0.07},
{"g":"NGC 6205","c":"b","s":"d","x":0.333,"y":-0.188,"x0":0.27,"x1":0.42,"y0":-0.24,"y1":-0.13},
{"g":"NGC 6205","c":"b","s":"d","x":0.413,"y":-0.039,"x0":0.35,"x1":0.52,"y0":-0.09,"y1":0.01},
{"g":"NGC 6205","c":"b","s":"d","x":0.462,"y":-0.015,"x0":0.4,"x1":0.55,"y0":-0.06,"y1":0.04},
{"g":"NGC 6205","c":"b","s":"d","x":0.52,"y":-0.015,"x0":0.45,"x1":0.6,"y0":-0.06,"y1":0.04},
{"g":"NGC 6205","c":"b","s":"d","x":0.566,"y":0.087,"x0":0.5,"x1":0.64,"y0":0.03,"y1":0.15},
{"g":"NGC 6205","c":"b","s":"d","x":0.612,"y":0.245,"x0":0.56,"x1":0.68,"y0":0.17,"y1":0.32},
{"g":"NGC 6205","c":"b","s":"d","x":0.653,"y":0.051,"x0":0.58,"x1":0.73,"y0":0.0,"y1":0.1},
{"g":"NGC 6205","c":"b","s":"d","x":0.721,"y":-0.116,"x0":0.64,"x1":0.85,"y0":-0.17,"y1":-0.06},
{"g":"NGC 6205","c":"b","s":"d","x":0.774,"y":-0.11,"x0":0.65,"x1":2.0,"y0":-0.25,"y1":-0.06},
{"g":"NGC 6205","c":"r","s":"d","x":0.327,"y":0.101,"x0":0.093,"x1":0.419,"y0":0.036,"y1":0.203},
{"g":"NGC 6205","c":"r","s":"d","x":0.527,"y":0.191,"x0":0.33,"x1":0.78,"y0":0.1,"y1":0.27},
{"g":"NGC 6205","c":"r","s":"d","x":0.693,"y":-0.03,"x0":0.55,"x1":1.0,"y0":-0.11,"y1":0.03},
{"g":"NGC 6205","c":"r","s":"c","x":1.99,"y":0.066,"x0":0.72,"x1":2.9,"y0":-0.01,"y1":0.11},
{"g":"NGC 6205","c":"r","s":"c","x":2.37,"y":0.14,"x0":1.7,"x1":3.5,"y0":0.07,"y1":0.2},
{"g":"NGC 6205","c":"r","s":"c","x":2.81,"y":0.146,"x0":2.2,"x1":3.6,"y0":0.08,"y1":0.2},
{"g":"NGC 6205","c":"r","s":"c","x":3.42,"y":0.099,"x0":2.7,"x1":4.2,"y0":0.03,"y1":0.17},
{"g":"NGC 6205","c":"r","s":"c","x":4.22,"y":0.146,"x0":3.0,"x1":13.0,"y0":0.07,"y1":0.27},
{"g":"NGC 6205","c":"r","s":"c","x":4.71,"y":0.194,"x0":3.5,"x1":13.0,"y0":0.07,"y1":0.29},
{"g":"NGC 6205","c":"b","s":"c","x":1.72,"y":-0.188,"x0":1.5,"x1":2.0,"y0":-0.27,"y1":-0.1},
{"g":"NGC 6205","c":"b","s":"c","x":1.99,"y":-0.066,"x0":1.7,"x1":2.3,"y0":-0.13,"y1":0.0},
{"g":"NGC 6205","c":"b","s":"c","x":2.21,"y":-0.107,"x0":1.9,"x1":2.5,"y0":-0.16,"y1":-0.05},
{"g":"NGC 6205","c":"b","s":"c","x":2.39,"y":-0.173,"x0":2.1,"x1":2.7,"y0":-0.23,"y1":-0.12},
{"g":"NGC 6205","c":"b","s":"c","x":2.62,"y":-0.245,"x0":2.3,"x1":3.0,"y0":-0.3,"y1":-0.19},
{"g":"NGC 6205","c":"b","s":"c","x":2.9,"y":-0.245,"x0":2.5,"x1":3.3,"y0":-0.3,"y1":-0.19},
{"g":"NGC 6205","c":"b","s":"c","x":3.18,"y":-0.278,"x0":2.8,"x1":3.6,"y0":-0.33,"y1":-0.22},
{"g":"NGC 6205","c":"b","s":"c","x":3.53,"y":-0.337,"x0":3.1,"x1":4.0,"y0":-0.39,"y1":-0.15},
{"g":"NGC 6205","c":"b","s":"c","x":4.03,"y":-0.227,"x0":3.4,"x1":4.6,"y0":-0.28,"y1":-0.15},
{"g":"NGC 6205","c":"b","s":"c","x":4.66,"y":-0.113,"x0":3.7,"x1":10.0,"y0":-0.17,"y1":-0.05},
{"g":"NGC 6205","c":"b","s":"c","x":5.1,"y":-0.107,"x0":4.0,"x1":10.0,"y0":-0.17,"y1":-0.04},

{"g":"NGC 6218","c":"b","s":"d","x":0.427,"y":0.0,"x0":0.093,"x1":0.906,"y0":-0.05,"y1":0.06},
{"g":"NGC 6218","c":"r","s":"d","x":0.465,"y":0.113,"x0":0.1,"x1":0.883,"y0":0.03,"y1":0.164},
{"g":"NGC 6218","c":"r","s":"c","x":1.37,"y":0.439,"x0":0.506,"x1":1.9,"y0":0.307,"y1":0.567},
{"g":"NGC 6218","c":"r","s":"c","x":1.91,"y":0.152,"x0":1.37,"x1":2.96,"y0":0.045,"y1":0.254},
{"g":"NGC 6218","c":"r","s":"c","x":2.87,"y":0.069,"x0":2.39,"x1":8.95,"y0":-0.015,"y1":0.179},
{"g":"NGC 6218","c":"b","s":"c","x":1.42,"y":0.039,"x0":1.2,"x1":2.39,"y0":-0.045,"y1":0.179},
{"g":"NGC 6218","c":"b","s":"c","x":1.73,"y":0.104,"x0":1.2,"x1":2.39,"y0":-0.045,"y1":0.179},
{"g":"NGC 6218","c":"b","s":"c","x":2.14,"y":0.021,"x0":1.7,"x1":2.9,"y0":-0.05,"y1":0.09},
{"g":"NGC 6218","c":"b","s":"c","x":2.72,"y":-0.107,"x0":1.9,"x1":5.77,"y0":-0.185,"y1":0.09},
{"g":"NGC 6218","c":"b","s":"c","x":3.1,"y":-0.021,"x0":2.4,"x1":5.77,"y0":-0.11,"y1":0.07},

{"g":"NGC 6254","c":"r","s":"c","x":1.27,"y":0.334,"x0":0.465,"x1":1.63,"y0":0.257,"y1":0.445},
{"g":"NGC 6254","c":"r","s":"c","x":1.63,"y":0.248,"x0":1.27,"x1":2.07,"y0":0.146,"y1":0.346},
{"g":"NGC 6254","c":"r","s":"c","x":3.77,"y":0.242,"x0":2.79,"x1":8.55,"y0":0.128,"y1":0.358},
{"g":"NGC 6254","c":"r","s":"c","x":2.07,"y":0.033,"x0":1.63,"x1":2.77,"y0":-0.063,"y1":0.131},
{"g":"NGC 6254","c":"r","s":"c","x":2.77,"y":-0.006,"x0":2.45,"x1":3.77,"y0":-0.1,"y1":0.057},
{"g":"NGC 6254","c":"b","s":"c","x":2.45,"y":0.03,"x0":2.07,"x1":2.9,"y0":-0.08,"y1":0.1},
{"g":"NGC 6254","c":"b","s":"c","x":2.9,"y":-0.072,"x0":2.45,"x1":3.77,"y0":-0.16,"y1":0.003},
{"g":"NGC 6254","c":"b","s":"c","x":3.77,"y":-0.134,"x0":2.9,"x1":6.8,"y0":-0.22,"y1":-0.04},
{"g":"NGC 6254","c":"b","s":"c","x":1.2,"y":-0.164,"x0":0.641,"x1":2.03,"y0":-0.227,"y1":-0.104},
{"g":"NGC 6254","c":"b","s":"c","x":1.46,"y":-0.239,"x0":1.2,"x1":1.74,"y0":-0.3,"y1":-0.176},
{"g":"NGC 6254","c":"b","s":"c","x":1.74,"y":-0.194,"x0":1.46,"x1":2.45,"y0":-0.29,"y1":-0.116},
{"g":"NGC 6254","c":"b","s":"c","x":2.03,"y":-0.212,"x0":1.46,"x1":2.45,"y0":-0.29,"y1":-0.116},

{"g":"NGC 6366","c":"r","s":"c","x":1.45,"y":0.576,"x0":0.9,"x1":2.3,"y0":0.331,"y1":0.788},
{"g":"NGC 6366","c":"b","s":"c","x":0.693,"y":0.2,"x0":0.147,"x1":1.08,"y0":0.027,"y1":0.352},
{"g":"NGC 6366","c":"b","s":"c","x":1.59,"y":-0.033,"x0":1.08,"x1":2.15,"y0":-0.17,"y1":0.116},
{"g":"NGC 6366","c":"b","s":"d","x":0.267,"y":-0.107,"x0":0.093,"x1":0.52,"y0":-0.236,"y1":0.018},
{"g":"NGC 6366","c":"r","s":"c","x":0.649,"y":-0.203,"x0":0.245,"x1":0.9,"y0":-0.316,"y1":-0.072},
{"g":"NGC 6366","c":"r","s":"d","x":0.353,"y":-0.448,"x0":0.115,"x1":0.441,"y0":-0.549,"y1":-0.275},

{"g":"NGC 6712","c":"b","s":"c","x":1.94,"y":0.173,"x0":0.76,"x1":4.97,"y0":-0.063,"y1":0.421},
{"g":"NGC 6712","c":"r","s":"c","x":1.61,"y":-0.099,"x0":0.671,"x1":6.04,"y0":-0.248,"y1":0.072},

{"g":"NGC 6752","c":"r","s":"d","x":0.372,"y":0.096,"x0":0.093,"x1":0.855,"y0":0.0,"y1":0.134},
{"g":"NGC 6752","c":"b","s":"d","x":0.422,"y":0.128,"x0":0.093,"x1":0.838,"y0":0.081,"y1":0.185},
{"g":"NGC 6752","c":"r","s":"c","x":2.37,"y":-0.06,"x0":0.653,"x1":3.31,"y0":-0.119,"y1":0.0},
{"g":"NGC 6752","c":"r","s":"c","x":3.49,"y":-0.107,"x0":2.5,"x1":5.0,"y0":-0.16,"y1":-0.05},
{"g":"NGC 6752","c":"r","s":"c","x":5.2,"y":-0.015,"x0":3.49,"x1":12.0,"y0":-0.164,"y1":0.054},
{"g":"NGC 6752","c":"b","s":"c","x":1.74,"y":-0.146,"x0":0.624,"x1":2.9,"y0":-0.194,"y1":-0.096},
{"g":"NGC 6752","c":"b","s":"c","x":2.21,"y":-0.149,"x0":1.6,"x1":2.9,"y0":-0.2,"y1":-0.1},
{"g":"NGC 6752","c":"b","s":"c","x":2.89,"y":-0.06,"x0":2.2,"x1":4.5,"y0":-0.12,"y1":0.0},
{"g":"NGC 6752","c":"b","s":"c","x":4.0,"y":-0.119,"x0":3.0,"x1":5.5,"y0":-0.17,"y1":-0.07},
{"g":"NGC 6752","c":"b","s":"c","x":6.21,"y":-0.137,"x0":3.26,"x1":13.8,"y0":-0.18,"y1":-0.09},

{"g":"NGC 6809","c":"r","s":"d","x":0.279,"y":0.107,"x0":0.093,"x1":0.51,"y0":0.003,"y1":0.227},
{"g":"NGC 6809","c":"b","s":"d","x":0.308,"y":-0.033,"x0":0.093,"x1":0.537,"y0":-0.107,"y1":0.063},
{"g":"NGC 6809","c":"b","s":"c","x":0.968,"y":0.057,"x0":0.38,"x1":1.3,"y0":-0.027,"y1":0.143},
{"g":"NGC 6809","c":"b","s":"c","x":1.29,"y":0.236,"x0":0.955,"x1":1.78,"y0":0.143,"y1":0.361},
{"g":"NGC 6809","c":"b","s":"c","x":1.78,"y":0.313,"x0":1.3,"x1":3.4,"y0":0.188,"y1":0.436},
{"g":"NGC 6809","c":"r","s":"c","x":0.974,"y":-0.113,"x0":0.312,"x1":1.55,"y0":-0.212,"y1":0.048},
{"g":"NGC 6809","c":"r","s":"c","x":1.55,"y":0.039,"x0":1.2,"x1":2.1,"y0":-0.08,"y1":0.17},
{"g":"NGC 6809","c":"r","s":"c","x":2.04,"y":0.122,"x0":1.55,"x1":3.06,"y0":-0.048,"y1":0.245},

{"g":"NGC 6838","c":"r","s":"d","x":0.478,"y":0.072,"x0":0.117,"x1":0.877,"y0":0.003,"y1":0.197},
{"g":"NGC 6838","c":"b","s":"d","x":0.537,"y":0.093,"x0":0.093,"x1":0.86,"y0":-0.072,"y1":0.233},
{"g":"NGC 6838","c":"b","s":"c","x":0.755,"y":0.242,"x0":0.204,"x1":1.06,"y0":0.122,"y1":0.412},
{"g":"NGC 6838","c":"b","s":"c","x":1.34,"y":0.287,"x0":1.06,"x1":1.99,"y0":0.128,"y1":0.564},
{"g":"NGC 6838","c":"b","s":"c","x":1.06,"y":-0.146,"x0":0.745,"x1":1.38,"y0":-0.25,"y1":0.033},
{"g":"NGC 6838","c":"r","s":"c","x":0.806,"y":-0.2,"x0":0.093,"x1":1.13,"y0":-0.296,"y1":-0.101},
{"g":"NGC 6838","c":"r","s":"c","x":1.13,"y":-0.036,"x0":0.8,"x1":1.55,"y0":-0.17,"y1":0.08},
{"g":"NGC 6838","c":"r","s":"c","x":1.47,"y":-0.119,"x0":1.13,"x1":1.8,"y0":-0.22,"y1":-0.05},

{"g":"NGC 6934","c":"b","s":"c","x":2.12,"y":0.571,"x0":1.0,"x1":4.72,"y0":0.36,"y1":0.926},
{"g":"NGC 6934","c":"r","s":"c","x":2.3,"y":1.3,"x0":1.37,"x1":3.62,"y0":-0.342,"y1":1.5},
{"g":"NGC 6934","c":"b","s":"d","x":0.421,"y":0.089,"x0":0.093,"x1":0.778,"y0":0.009,"y1":0.179},
{"g":"NGC 6934","c":"b","s":"d","x":0.778,"y":0.0,"x0":0.427,"x1":1.3,"y0":-0.074,"y1":0.068},
{"g":"NGC 6934","c":"b","s":"d","x":1.29,"y":-0.083,"x0":0.778,"x1":2.25,"y0":-0.146,"y1":-0.027},
{"g":"NGC 6934","c":"r","s":"d","x":0.819,"y":-0.06,"x0":0.093,"x1":1.37,"y0":-0.125,"y1":-0.006},
{"g":"NGC 6934","c":"y","s":"d","x":0.656,"y":-0.259,"x0":0.28,"x1":1.68,"y0":-0.399,"y1":-0.057},

{"g":"NGC 6981","c":"b","s":"d","x":0.733,"y":0.074,"x0":0.093,"x1":1.71,"y0":-0.065,"y1":0.241},
{"g":"NGC 6981","c":"r","s":"d","x":0.744,"y":-0.113,"x0":0.093,"x1":1.52,"y0":-0.199,"y1":-0.027},
{"g":"NGC 6981","c":"r","s":"c","x":2.09,"y":-0.357,"x0":0.397,"x1":4.65,"y0":-0.815,"y1":0.217},
{"g":"NGC 6981","c":"b","s":"c","x":1.87,"y":-0.491,"x0":0.916,"x1":4.55,"y0":-0.711,"y1":-0.027},

{"g":"NGC 7089","c":"y","s":"d","x":0.822,"y":0.176,"x0":0.493,"x1":1.18,"y0":0.044,"y1":0.388},
{"g":"NGC 7089","c":"b","s":"d","x":0.548,"y":-0.126,"x0":0.45,"x1":0.62,"y0":-0.17,"y1":-0.08},
{"g":"NGC 7089","c":"b","s":"d","x":0.593,"y":-0.126,"x0":0.52,"x1":0.66,"y0":-0.17,"y1":-0.08},
{"g":"NGC 7089","c":"b","s":"d","x":0.645,"y":-0.094,"x0":0.57,"x1":0.72,"y0":-0.14,"y1":-0.05},
{"g":"NGC 7089","c":"b","s":"d","x":0.698,"y":-0.029,"x0":0.63,"x1":0.77,"y0":-0.08,"y1":0.03},
{"g":"NGC 7089","c":"b","s":"d","x":0.75,"y":-0.141,"x0":0.68,"x1":0.82,"y0":-0.19,"y1":-0.09},
{"g":"NGC 7089","c":"b","s":"d","x":0.828,"y":0.053,"x0":0.76,"x1":0.9,"y0":0.0,"y1":0.1},
{"g":"NGC 7089","c":"b","s":"d","x":0.883,"y":-0.103,"x0":0.8,"x1":0.98,"y0":-0.15,"y1":-0.05},
{"g":"NGC 7089","c":"b","s":"d","x":0.942,"y":-0.05,"x0":0.86,"x1":1.03,"y0":-0.1,"y1":0.0},
{"g":"NGC 7089","c":"b","s":"d","x":1.03,"y":0.068,"x0":0.95,"x1":1.12,"y0":0.02,"y1":0.11},
{"g":"NGC 7089","c":"b","s":"d","x":1.12,"y":0.044,"x0":1.03,"x1":1.22,"y0":0.0,"y1":0.09},
{"g":"NGC 7089","c":"b","s":"d","x":1.24,"y":0.068,"x0":1.12,"x1":1.4,"y0":0.02,"y1":0.11},
{"g":"NGC 7089","c":"r","s":"d","x":0.877,"y":-0.112,"x0":0.75,"x1":1.05,"y0":-0.15,"y1":-0.07},
{"g":"NGC 7089","c":"b","s":"c","x":2.48,"y":-0.082,"x0":1.13,"x1":4.1,"y0":-0.12,"y1":-0.03},
{"g":"NGC 7089","c":"b","s":"c","x":2.98,"y":-0.115,"x0":2.2,"x1":4.1,"y0":-0.17,"y1":-0.06},
{"g":"NGC 7089","c":"b","s":"c","x":3.63,"y":-0.109,"x0":2.9,"x1":13.8,"y0":-0.19,"y1":-0.06},
{"g":"NGC 7089","c":"b","s":"c","x":4.5,"y":-0.05,"x0":3.8,"x1":13.8,"y0":-0.09,"y1":0.03},
{"g":"NGC 7089","c":"b","s":"c","x":5.23,"y":-0.141,"x0":3.9,"x1":13.8,"y0":-0.23,"y1":-0.06},
{"g":"NGC 7089","c":"r","s":"c","x":2.52,"y":-0.162,"x0":1.3,"x1":4.08,"y0":-0.226,"y1":-0.074},
{"g":"NGC 7089","c":"r","s":"c","x":2.94,"y":-0.241,"x0":2.4,"x1":3.6,"y0":-0.33,"y1":-0.15},
{"g":"NGC 7089","c":"r","s":"c","x":3.4,"y":-0.156,"x0":2.9,"x1":4.5,"y0":-0.22,"y1":-0.08},
{"g":"NGC 7089","c":"r","s":"c","x":4.48,"y":0.065,"x0":3.3,"x1":13.8,"y0":-0.13,"y1":0.19},
{"g":"NGC 7089","c":"r","s":"c","x":5.23,"y":0.174,"x0":3.77,"x1":13.8,"y0":-0.044,"y1":0.388},
{"g":"NGC 7089","c":"y","s":"c","x":2.09,"y":-0.421,"x0":0.73,"x1":4.44,"y0":-0.538,"y1":-0.309},

{"g":"NGC 7492","c":"b","s":"c","x":1.13,"y":0.932,"x0":0.157,"x1":2.62,"y0":-0.279,"y1":1.5},
{"g":"NGC 7492","c":"r","s":"c","x":0.906,"y":-0.324,"x0":0.419,"x1":1.92,"y0":-0.891,"y1":0.932}
]},
"columns": 4,
"spacing": {"row": 3, "column": 6},
"facet": {"field": "g", "type": "nominal", "title": null, "header": null},
"spec": {
  "width": 278,
  "height": 223,
  "layer": [
    {
      "transform": [{"filter": "isValid(datum.s)"}],
      "mark": {"type": "rect", "clip": true, "fillOpacity": 0.4, "strokeWidth": 0},
      "encoding": {
        "x": {"field": "x0", "type": "quantitative", "title": "R/Rₕ",
          "scale": {"type": "log", "domain": [0.093, 13.8], "nice": false},
          "axis": {"values": [0.1,0.2,0.3,0.4,0.5,0.6,0.7,0.8,0.9,1,2,3,4,5,6,7,8,9,10],
            "labelExpr": "(datum.value == 0.2 || datum.value == 1 || datum.value == 5 || datum.value == 10) ? format(datum.value, '~g') : ''",
            "labelOverlap": false, "labelFlush": false,
            "labelPadding": 11, "titlePadding": 0, "titleFontStyle": "italic"}},
        "x2": {"field": "x1"},
        "y": {"field": "y0", "type": "quantitative", "title": "σT/σR − 1",
          "scale": {"domain": [-1, 1], "nice": false, "zero": false},
          "axis": {"values": [-0.5, 0, 0.5], "format": ".1f",
            "labelOverlap": false, "labelFlush": false,
            "labelPadding": 12, "titlePadding": 10}},
        "y2": {"field": "y1"},
        "fill": {"field": "c", "type": "nominal", "legend": null,
          "scale": {"domain": ["r","b","y"], "range": ["#ED96AA","#9E9ECF","#F5E191"]}}
      }
    },
    {
      "transform": [{"filter": "isValid(datum.rh)"}],
      "mark": {"type": "rule", "color": "#999999", "strokeWidth": 1.2},
      "encoding": {"x": {"datum": 1, "type": "quantitative", "title": "R/Rₕ"}}
    },
    {
      "transform": [{"filter": "isValid(datum.dd)"}],
      "mark": {"type": "rule", "color": "#b0b0b0", "strokeWidth": 1, "strokeDash": [6, 3, 1.5, 3]},
      "encoding": {"x": {"field": "dd", "type": "quantitative", "title": "R/Rₕ"}}
    },
    {
      "transform": [{"filter": "isValid(datum.dt)"}],
      "mark": {"type": "rule", "color": "#b0b0b0", "strokeWidth": 1, "strokeDash": [3, 2]},
      "encoding": {"x": {"field": "dt", "type": "quantitative", "title": "R/Rₕ"}}
    },
    {
      "transform": [{"filter": "isValid(datum.rh)"}],
      "mark": {"type": "rule", "color": "#111111", "strokeWidth": 1.2},
      "encoding": {"y": {"datum": 0, "type": "quantitative", "title": "σT/σR − 1"}}
    },
    {
      "transform": [{"filter": "isValid(datum.rh)"}],
      "mark": {"type": "text", "text": "Tangential", "align": "left", "baseline": "middle", "font": "Liberation Serif", "fontSize": 17, "color": "#c2c2c2"},
      "encoding": {"x": {"datum": 0.111, "type": "quantitative", "title": "R/Rₕ"}, "y": {"datum": 0.73, "type": "quantitative", "title": "σT/σR − 1"}}
    },
    {
      "transform": [{"filter": "isValid(datum.rh)"}],
      "mark": {"type": "text", "text": "Radial", "align": "left", "baseline": "middle", "font": "Liberation Serif", "fontSize": 17, "color": "#c2c2c2"},
      "encoding": {"x": {"datum": 0.111, "type": "quantitative", "title": "R/Rₕ"}, "y": {"datum": -0.72, "type": "quantitative", "title": "σT/σR − 1"}}
    },
    {
      "transform": [{"filter": "isValid(datum.rh)"}],
      "mark": {"type": "text", "align": "right", "baseline": "middle", "font": "Liberation Serif", "fontSize": 25, "color": "#1a1a1a"},
      "encoding": {"text": {"field": "g"}, "x": {"datum": 13.3, "type": "quantitative", "title": "R/Rₕ"}, "y": {"datum": 0.83, "type": "quantitative", "title": "σT/σR − 1"}}
    },
    {
      "transform": [{"filter": "isValid(datum.rh)"}, {"calculate": "'Rₕ = ' + datum.rh", "as": "lab"}],
      "mark": {"type": "text", "align": "right", "baseline": "middle", "font": "Liberation Serif", "fontSize": 17, "color": "#333333"},
      "encoding": {"text": {"field": "lab"}, "x": {"datum": 13.3, "type": "quantitative", "title": "R/Rₕ"}, "y": {"datum": 0.645, "type": "quantitative", "title": "σT/σR − 1"}}
    },
    {
      "transform": [{"filter": "isValid(datum.s)"}],
      "mark": {"type": "point", "filled": true, "clip": true, "opacity": 1, "size": 120, "stroke": "#222222", "strokeWidth": 0.8},
      "encoding": {
        "x": {"field": "x", "type": "quantitative", "title": "R/Rₕ"},
        "y": {"field": "y", "type": "quantitative", "title": "σT/σR − 1"},
        "color": {"field": "c", "type": "nominal", "legend": null,
          "scale": {"domain": ["r","b","y"], "range": ["#E8506A","#4E5BAA","#F3BE1C"]}},
        "shape": {"field": "s", "type": "nominal", "legend": null,
          "scale": {"domain": ["c","d"], "range": ["M0.66,0A0.66,0.66,0,1,1,-0.66,0A0.66,0.66,0,1,1,0.66,0Z", "M0,-1L0.64,0L0,1L-0.64,0Z"]}}
      }
    }
  ]
},
"config": {
  "view": {"stroke": "#222222", "strokeWidth": 1.5},
  "font": "Liberation Serif",
  "header": {"labels": false, "title": null, "labelFontSize": 0, "labelPadding": 0, "titlePadding": 0, "labelExpr": "''"},
  "axis": {"grid": false, "domain": false, "tickColor": "#222222", "tickWidth": 1, "tickSize": -5, "labelOverlap": false,
    "labelFont": "Liberation Serif", "labelFontSize": 16, "labelColor": "#222222",
    "titleFont": "Liberation Serif", "titleFontSize": 20, "titleFontWeight": "normal", "titleColor": "#222222"}
}
}
